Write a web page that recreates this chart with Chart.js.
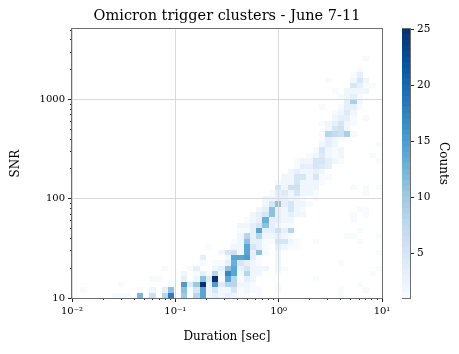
<!DOCTYPE html>
<html>
<head>
<meta charset="UTF-8">
<title>Omicron trigger clusters - June 7-11</title>
<script src="https://cdn.jsdelivr.net/npm/chart.js"></script>
<style>
  body { margin: 0; background: #fff; }
  #wrap { position: relative; width: 459px; height: 354px; }
  #main { position: absolute; left: 0; top: 0; }
  #cbar { position: absolute; left: 402px; top: 0; }
</style>
</head>
<body>
<div id="wrap">
  <canvas id="main" width="459" height="354"></canvas>
  <canvas id="cbar" width="57" height="354"></canvas>
</div>
<script>
// histogram bins (log10 of the bin edges)
const durBinStart = -1.981, durBinWidth = 0.0608;
const snrBinStart = 1.0, snrBinWidth = 0.0542;

// counts per SNR bin (index = row), each entry [duration bin, count]
const countsByRow = [
  [[6,1],[7,1],[8,1],[10,12],[12,6],[14,8],[15,18],[16,1],[17,10],[19,8],[20,14],[21,2],[22,3],[23,2],[24,3],[25,2],[26,1],[27,1],[29,1],[42,1]],
  [[1,1],[10,1],[12,2],[14,3],[15,11],[17,11],[18,1],[19,5],[20,14],[21,2],[22,5],[23,2],[24,2],[25,5],[26,1],[27,2],[28,1],[29,1],[32,1],[42,1],[46,1]],
  [[7,1],[15,1],[17,15],[18,4],[19,10],[20,25],[21,2],[22,15],[23,4],[24,8],[25,8],[26,2],[27,2],[28,1],[32,1],[45,1]],
  [[12,1],[13,1],[17,3],[19,2],[20,11],[21,4],[22,25],[23,1],[24,14],[25,8],[26,1],[27,3],[28,2],[38,1]],
  [[17,2],[19,1],[20,3],[21,1],[22,8],[23,2],[24,17],[25,14],[26,2],[27,8],[28,2],[29,2],[32,1],[47,1]],
  [[14,1],[18,1],[19,3],[22,2],[23,3],[24,11],[25,14],[26,3],[27,5],[28,2],[29,2],[30,2],[32,2],[33,1],[48,1]],
  [[20,1],[22,1],[23,1],[24,3],[25,13],[26,5],[27,3],[28,2],[29,1],[32,2],[42,1]],
  [[20,3],[24,2],[25,14],[26,14],[27,15],[28,3],[29,1],[32,2]],
  [[23,2],[24,5],[25,6],[26,2],[27,14],[28,3],[29,11],[30,1],[32,2],[48,1]],
  [[21,1],[25,2],[26,2],[27,14],[28,5],[29,3],[30,1],[32,3],[33,2],[34,1],[35,1]],
  [[25,1],[26,2],[27,11],[28,3],[29,3],[30,1],[31,1],[32,5],[33,5],[34,2],[35,1],[38,1],[45,1]],
  [[26,2],[27,8],[28,3],[29,8],[30,2],[31,2],[32,3],[33,2],[34,1],[43,1],[44,1],[48,1]],
  [[26,1],[27,1],[28,3],[29,14],[30,3],[31,3],[32,6],[33,3],[34,8],[45,1]],
  [[26,2],[27,2],[28,3],[29,5],[30,11],[31,3],[32,2],[33,1],[34,1]],
  [[27,1],[28,2],[29,3],[30,13],[31,3],[32,3],[33,2],[34,2],[44,1]],
  [[28,2],[29,3],[30,5],[31,11],[32,3],[33,2],[34,3],[35,2],[36,2],[44,1],[46,1]],
  [[29,2],[30,3],[31,11],[32,3],[33,2],[34,5],[35,2],[36,1],[45,1],[46,1]],
  [[30,2],[31,5],[32,11],[33,3],[34,5],[35,2],[36,2],[37,1]],
  [[30,2],[31,2],[32,3],[33,3],[34,2],[35,2],[36,1],[38,1]],
  [[31,1],[32,3],[33,4],[34,2],[35,5],[36,2],[37,2],[38,1],[46,1]],
  [[32,5],[33,2],[34,6],[35,6],[36,2],[37,2],[38,2],[44,1],[46,1],[48,1]],
  [[32,1],[33,2],[34,2],[35,5],[36,2],[37,2],[38,2],[39,1]],
  [[33,2],[34,2],[35,5],[36,5],[37,2],[38,5],[39,1],[40,1]],
  [[34,2],[35,3],[36,2],[37,2],[38,3],[39,2]],
  [[35,1],[36,3],[37,3],[38,5],[39,4],[40,3]],
  [[35,1],[36,2],[37,2],[38,5],[39,5],[40,3],[41,2],[42,1],[48,1]],
  [[37,1],[38,2],[39,4],[40,2],[41,1],[42,2],[47,1]],
  [[38,1],[39,5],[40,2],[41,1],[42,2]],
  [[39,2],[40,3],[41,2],[48,1]],
  [[39,1],[40,3],[41,2],[42,1]],
  [[39,1],[40,8],[41,7],[42,6],[43,9],[44,1]],
  [[40,2],[41,5],[42,6],[43,2]],
  [[39,1],[40,2],[41,3],[42,5],[43,2],[44,1]],
  [[41,2],[42,3],[43,3],[44,1],[46,1]],
  [[41,1],[42,2],[43,4],[44,2]],
  [[39,1],[42,1],[43,3],[44,3],[45,1]],
  [[43,3],[44,9],[45,2]],
  [[42,1],[43,2],[44,3],[45,1]],
  [[41,1],[43,2],[44,2],[45,2],[46,2]],
  [[44,5],[45,3],[46,1],[47,1]],
  [[40,1],[44,2],[45,5],[46,2]],
  [[44,1],[45,3]],
  [[45,1]],
  [],
  [[46,1]]
];

const durTickValues = [0.01, 0.1, 1, 10];
const durTickLabels = ['10⁻²', '10⁻¹', '10⁰', '10¹'];
const snrTickValues = [10, 100, 1000];
const snrTickLabels = ['10', '100', '1000'];
const countMin = 1, countMax = 25;
const colorbarTicks = [5, 10, 15, 20, 25];

const FONT = "'DejaVu Serif', serif";

// matplotlib "Blues"
const bluesStops = ['#f7fbff', '#deebf7', '#c6dbef', '#9ecae1', '#6baed6', '#4292c6', '#2171b5', '#08519c', '#08306b']
  .map(h => [1, 3, 5].map(i => parseInt(h.substr(i, 2), 16)));
function blues(t) {
  t = Math.max(0, Math.min(1, t));
  const p = t * 8, i = Math.min(7, Math.floor(p)), f = p - i;
  const a = bluesStops[i], b = bluesStops[i + 1];
  const c = a.map((v, k) => Math.round(v + (b[k] - v) * f));
  return `rgb(${c[0]},${c[1]},${c[2]})`;
}

// decade ticks (1, 10, 100...) and the 2..9 minor ticks in between
function majorTicks(loExp, hiExp) {
  const out = [];
  for (let e = loExp; e <= hiExp; e++) out.push({ value: Math.pow(10, e) });
  return out;
}
function minorTicks(loExp, hiExp, max) {
  const out = [];
  for (let e = loExp; e < hiExp; e++) {
    for (let m = 2; m < 10; m++) out.push(m * Math.pow(10, e));
  }
  return out.filter(v => v <= max).map(v => ({ value: v }));
}
function labelFor(v, values, labels) {
  const i = values.findIndex(t => Math.abs(t - v) / t < 1e-6);
  return i < 0 ? '' : labels[i];
}

const frame = {
  id: 'frame',
  afterDraw(chart) {
    const { ctx, chartArea: a } = chart;
    ctx.save();
    ctx.strokeStyle = '#6e6e6e';
    ctx.lineWidth = 1;
    ctx.strokeRect(Math.round(a.left) - 0.5, Math.round(a.top) - 0.5,
      Math.round(a.right - a.left) + 1, Math.round(a.bottom - a.top) + 1);
    ctx.restore();
  }
};

const heatmap = {
  id: 'heatmap',
  beforeDatasetsDraw(chart) {
    const { ctx, chartArea: a, scales: { x, y } } = chart;
    ctx.save();
    ctx.beginPath();
    ctx.rect(a.left, a.top, a.right - a.left, a.bottom - a.top);
    ctx.clip();
    countsByRow.forEach((cells, row) => {
      const yLo = Math.round(y.getPixelForValue(Math.pow(10, snrBinStart + row * snrBinWidth)));
      const yHi = Math.round(y.getPixelForValue(Math.pow(10, snrBinStart + (row + 1) * snrBinWidth)));
      cells.forEach(([col, n]) => {
        const xLo = Math.round(x.getPixelForValue(Math.pow(10, durBinStart + col * durBinWidth)));
        const xHi = Math.round(x.getPixelForValue(Math.pow(10, durBinStart + (col + 1) * durBinWidth)));
        ctx.fillStyle = blues((n - countMin) / (countMax - countMin));
        ctx.fillRect(xLo, yHi, xHi - xLo, yLo - yHi);
      });
    });
    ctx.restore();
  }
};

// axis with only the short minor tick marks, stacked against the chart edge
function minorAxis(axis, position, min, max, ticks) {
  return {
    type: 'logarithmic', axis, position, min, max, weight: 0,
    afterBuildTicks: s => { s.ticks = ticks; },
    afterFit: s => { if (axis === 'x') s.height = 0; else s.width = 0; },
    border: { display: false },
    grid: { drawOnChartArea: false, tickColor: '#222', tickLength: 2 },
    ticks: { display: false }
  };
}

new Chart(document.getElementById('main'), {
  type: 'scatter',
  data: { datasets: [{ data: [] }] },
  plugins: [heatmap, frame],
  options: {
    responsive: false,
    animation: false,
    events: [],
    layout: { padding: { left: 0, right: 77, top: 0, bottom: 0 } },
    plugins: {
      legend: { display: false },
      tooltip: { enabled: false },
      title: {
        display: true,
        fullSize: false,
        text: 'Omicron trigger clusters - June 7-11',
        color: '#000',
        font: { family: FONT, size: 14.5, weight: 'normal' },
        padding: { top: 8, bottom: 4 }
      }
    },
    scales: {
      xMinor: minorAxis('x', 'bottom', 0.01, 10, minorTicks(-2, 1, 10)),
      yMinor: minorAxis('y', 'left', 10, 5100, minorTicks(1, 4, 5100)),
      x: {
        type: 'logarithmic',
        min: 0.01, max: 10, weight: 1,
        afterBuildTicks: s => { s.ticks = majorTicks(-2, 1); },
        afterFit: s => { s.height = 56; },
        border: { display: false },
        grid: { z: 1, color: '#d9d9d9', tickColor: '#222', tickLength: 4, lineWidth: 1 },
        ticks: {
          autoSkip: false, maxRotation: 0, padding: 3, color: '#000',
          font: { family: FONT, size: 10 },
          callback: v => labelFor(v, durTickValues, durTickLabels)
        },
        title: {
          display: true, text: 'Duration [sec]', color: '#000',
          font: { family: FONT, size: 12 },
          padding: { top: 0, bottom: 10 }
        }
      },
      y: {
        type: 'logarithmic',
        min: 10, max: 5100, weight: 1,
        afterBuildTicks: s => { s.ticks = majorTicks(1, 3); },
        afterFit: s => { s.width = 72; },
        border: { display: false },
        grid: { z: 1, color: '#d9d9d9', tickColor: '#222', tickLength: 4, lineWidth: 1 },
        ticks: {
          autoSkip: false, padding: 3, color: '#000',
          font: { family: FONT, size: 10 },
          callback: v => labelFor(v, snrTickValues, snrTickLabels)
        },
        title: {
          display: true, text: 'SNR', color: '#000',
          font: { family: FONT, size: 12 },
          padding: { top: 9, bottom: 0 }
        }
      }
    }
  }
});

// colour bar
const bandLevels = [];
for (let v = countMin; v < countMax; v += 0.5) bandLevels.push(v);

new Chart(document.getElementById('cbar'), {
  type: 'bar',
  data: {
    labels: [''],
    datasets: bandLevels.map(v => ({
      data: [[v, v + 0.5]],
      backgroundColor: blues((v + 0.25 - countMin) / (countMax - countMin)),
      borderWidth: 0,
      grouped: false,
      barPercentage: 1,
      categoryPercentage: 1
    }))
  },
  plugins: [frame],
  options: {
    responsive: false,
    animation: false,
    events: [],
    layout: { padding: { left: 0, right: 0, top: 29, bottom: 56 } },
    plugins: { legend: { display: false }, tooltip: { enabled: false } },
    scales: {
      x: { display: false },
      y: {
        position: 'right',
        min: countMin, max: countMax,
        afterBuildTicks: s => { s.ticks = colorbarTicks.map(v => ({ value: v })); },
        afterFit: s => { s.width = 49; },
        border: { display: false },
        grid: { drawOnChartArea: false, tickColor: '#222', tickLength: 4 },
        ticks: { padding: 3, color: '#000', font: { family: FONT, size: 10.5 } },
        title: {
          display: true, text: 'Counts', color: '#000',
          font: { family: FONT, size: 12 },
          padding: { top: 9, bottom: 0 }
        }
      }
    }
  }
});
</script>
</body>
</html>
